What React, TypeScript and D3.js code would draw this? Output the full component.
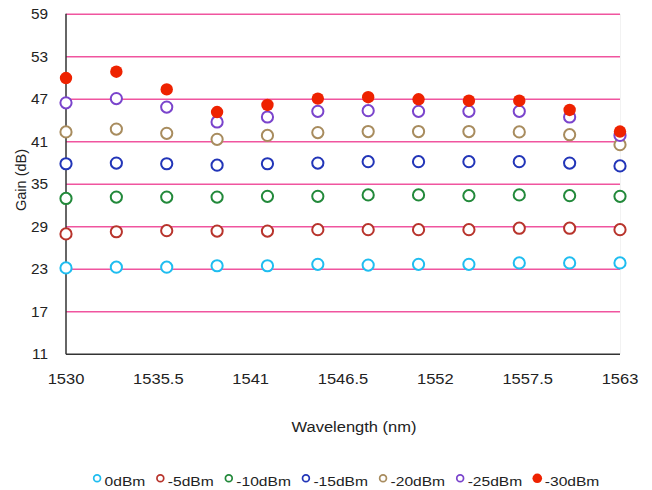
import React from "react";
import * as d3 from "d3";

const wavelengths = [1530, 1533, 1536, 1539, 1542, 1545, 1548, 1551, 1554, 1557, 1560, 1563];
const xTicks = [1530, 1535.5, 1541, 1546.5, 1552, 1557.5, 1563];
const yTicks = [11, 17, 23, 29, 35, 41, 47, 53, 59];

const seriesNames = ["0dBm", "-5dBm", "-10dBm", "-15dBm", "-20dBm", "-25dBm", "-30dBm"];
const seriesColors = ["#1fbdf0", "#b8342c", "#22893a", "#2235b8", "#a88c5e", "#7a44cc", "#ee2200"];
const seriesFilled = [false, false, false, false, false, false, true];

const gain0 = [23.2, 23.3, 23.3, 23.5, 23.5, 23.7, 23.6, 23.7, 23.7, 23.9, 23.9, 23.9];
const gain5 = [28.0, 28.3, 28.45, 28.4, 28.4, 28.6, 28.6, 28.6, 28.6, 28.8, 28.8, 28.6];
const gain10 = [33.0, 33.2, 33.2, 33.2, 33.3, 33.3, 33.5, 33.5, 33.4, 33.5, 33.4, 33.3];
const gain15 = [37.9, 38.0, 37.9, 37.7, 37.9, 38.0, 38.2, 38.2, 38.2, 38.2, 38.0, 37.6];
const gain20 = [42.4, 42.8, 42.2, 41.35, 41.9, 42.3, 42.45, 42.45, 42.45, 42.4, 42.0, 40.6];
const gain25 = [46.5, 47.1, 45.9, 43.8, 44.5, 45.3, 45.4, 45.3, 45.3, 45.3, 44.5, 41.9];
const gain30 = [50.0, 50.9, 48.4, 45.2, 46.2, 47.1, 47.3, 47.0, 46.8, 46.8, 45.5, 42.45];

const seriesValues = [gain0, gain5, gain10, gain15, gain20, gain25, gain30];

const W = 652;
const H = 490;
const FONT = "'Liberation Sans', Arial, Helvetica, sans-serif";

function measure(text: string, size: number): number {
  if (typeof document === "undefined") return text.length * size * 0.55;
  const c = document.createElement("canvas");
  const ctx = c.getContext("2d");
  if (!ctx) return text.length * size * 0.55;
  ctx.font = `${size}px ${FONT}`;
  return ctx.measureText(text).width;
}

function SText(props: {
  x: number;
  y: number;
  size: number;
  sx: number;
  anchor?: string;
  children: React.ReactNode;
}) {
  const { x, y, size, sx, anchor = "start", children } = props;
  return (
    <text
      transform={`translate(${x},${y}) scale(${sx},1)`}
      fontSize={size}
      textAnchor={anchor}
      fill="#222"
    >
      {children}
    </text>
  );
}

export default function App() {
  const x = d3.scaleLinear().domain([1530, 1563]).range([66, 620]);
  const y = d3.scaleLinear().domain([11, 59]).range([354.3, 14.3]);

  const legFont = 13;
  const legScale = 1.2;
  const markerW = 12;
  const gap = 10.5;
  const widths = seriesNames.map((n) => markerW + measure(n, legFont) * legScale);
  const total = d3.sum(widths) + gap * (seriesNames.length - 1);
  let cur = 346 - total / 2;
  const legendItems = seriesNames.map((n, i) => {
    const item = { name: n, x: cur, color: seriesColors[i], filled: seriesFilled[i] };
    cur += widths[i] + gap;
    return item;
  });

  return (
    <svg
      width={W}
      height={H}
      style={{ position: "absolute", left: 0, top: 0, background: "#fff" }}
      fontFamily={FONT}
    >
      <rect x={0} y={0} width={W} height={H} fill="#fff" />
      <line x1={620.5} x2={620.5} y1={14} y2={354} stroke="#f2f2f2" strokeWidth={1} />
      {yTicks.filter((t) => t > 11).map((t) => (
        <line key={t} x1={x(1530)} x2={x(1563)} y1={y(t)} y2={y(t)} stroke="#f0559f" strokeWidth={1.5} />
      ))}
      <line x1={x(1530)} x2={x(1530)} y1={y(59) - 0.5} y2={y(11)} stroke="#333" strokeWidth={1.5} />
      <line x1={x(1530)} x2={x(1563)} y1={y(11)} y2={y(11)} stroke="#333" strokeWidth={1.5} />
      {yTicks.map((t) => (
        <SText key={t} x={48} y={y(t) + 5} size={14.5} sx={1.06} anchor="end">
          {t}
        </SText>
      ))}
      {xTicks.map((t) => (
        <SText key={t} x={x(t)} y={384} size={14} sx={1.18} anchor="middle">
          {t}
        </SText>
      ))}
      <SText x={354} y={432} size={15} sx={1.1} anchor="middle">
        Wavelength (nm)
      </SText>
      <text transform={`translate(26, 180) rotate(-90)`} fontSize={14.5} textAnchor="middle" fill="#222">
        Gain (dB)
      </text>
      {seriesValues.map((vals, si) => (
        <g key={si}>
          {vals.map((v, i) =>
            seriesFilled[si] ? (
              <circle key={i} cx={x(wavelengths[i])} cy={y(v)} r={6.2} fill={seriesColors[si]} />
            ) : (
              <circle
                key={i}
                cx={x(wavelengths[i])}
                cy={y(v)}
                r={5.6}
                fill="#fff"
                stroke={seriesColors[si]}
                strokeWidth={2}
              />
            )
          )}
        </g>
      ))}
      {legendItems.map((it) => (
        <g key={it.name}>
          {it.filled ? (
            <circle cx={it.x + 4.5} cy={478.3} r={4.8} fill={it.color} />
          ) : (
            <circle cx={it.x + 4.5} cy={478.3} r={3.4} fill="#fff" stroke={it.color} strokeWidth={1.7} />
          )}
          <SText x={it.x + markerW} y={486} size={legFont} sx={legScale}>
            {it.name}
          </SText>
        </g>
      ))}
    </svg>
  );
}
